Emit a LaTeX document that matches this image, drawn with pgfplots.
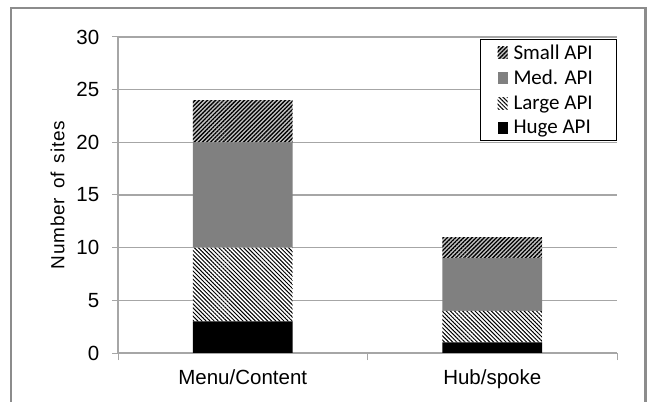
\documentclass[border=0pt]{standalone}
\usepackage{pgfplots}
\pgfplotsset{compat=1.18}
\usepackage{fontspec}
\setmainfont{Liberation Sans}
\newfontfamily\legfont{Carlito}
\newfontfamily\labfont[LetterSpace=4]{Liberation Sans}
\usetikzlibrary{patterns.meta}

\definecolor{gridgray}{HTML}{A6A6A6}
\definecolor{framegray}{HTML}{8C8C8C}
\definecolor{medgray}{HTML}{808080}
\definecolor{lightbg}{HTML}{C4C4C4}

% number of sites per navigation style, split by API size
\pgfplotstableread{
x huge large med small
0 3 7 10 4
1 1 3 5  2
}\sitedata

\begin{document}
\begin{tikzpicture}
\useasboundingbox (0,0) rectangle (653bp,402bp);
\fill[white] (0,0) rectangle (653bp,402bp);
% outer chart frame
\draw[framegray, line width=2.4bp] (11.2bp,-20bp) rectangle (645.6bp,393.8bp);

\begin{axis}[
  at={(118bp,49bp)}, anchor=south west,
  scale only axis, width=499bp, height=316bp,
  ybar stacked, bar width=0.4,
  xmin=-0.5, xmax=1.5, ymin=0, ymax=30,
  xtick={0,1}, xticklabels={Menu/Content, Hub/spoke},
  minor xtick={-0.5,0.5,1.5},
  ytick={0,5,...,30},
  tick align=outside,
  major tick length=5.5bp, minor tick length=7bp,
  x tick style={draw=none},
  minor x tick style={draw=gridgray, line width=1bp},
  y tick style={draw=gridgray, line width=1bp},
  axis x line*=bottom, axis y line*=left,
  axis line style={draw=gridgray, line width=1.1bp, -},
  ymajorgrids, grid style={draw=gridgray, line width=1.1bp},
  /pgf/number format/assume math mode=true,
  tick label style={font=\fontsize{20.5bp}{24bp}\selectfont},
  yticklabel style={anchor=east, inner sep=0pt, xshift=-13bp},
  xticklabel style={anchor=north, inner sep=0pt, yshift=-11bp},
  ylabel={Number\hspace{9bp}of\hspace{9bp}sites},
  ylabel style={font=\labfont\fontsize{19bp}{24bp}\selectfont,
    at={(axis description cs:-0.1212,0.5)}, anchor=center},
  reverse legend,
  legend cell align=left,
  legend style={at={(1,0.993)}, anchor=north east,
    draw=black, line width=1bp, fill=white,
    font=\legfont\fontsize{21bp}{24bp}\selectfont,
    inner xsep=17bp, inner ysep=3bp, row sep=5.5bp,
    /tikz/every odd column/.append style={column sep=4bp}},
  legend image code/.code={\fill[#1] (0bp,-6bp) rectangle (10bp,6bp);},
]
\addplot[fill=black, draw=none] table[x=x, y=huge] {\sitedata};
\addlegendentry{\makebox[84bp][l]{Huge API}}
\addplot[fill=white, draw=none,
  postaction={pattern={Lines[angle=-45,distance=2.9bp,line width=1bp]}, pattern color=black}]
  table[x=x, y=large] {\sitedata};
\addlegendentry{\makebox[84bp][l]{Large API}}
\addplot[fill=medgray, draw=none] table[x=x, y=med] {\sitedata};
\addlegendentry{\makebox[84bp][l]{Med. API}}
\addplot[fill=lightbg, draw=none,
  postaction={pattern={Lines[angle=45,distance=2.9bp,line width=1.3bp]}, pattern color=black}]
  table[x=x, y=small] {\sitedata};
\addlegendentry{\makebox[84bp][l]{Small API}}
\end{axis}
\end{tikzpicture}
\end{document}
